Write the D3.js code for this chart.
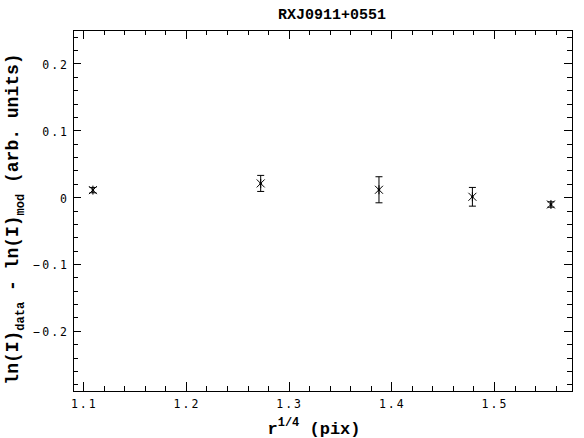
<!DOCTYPE html>
<html><head><meta charset="utf-8">
<script src="https://cdn.jsdelivr.net/npm/d3@7"></script>
<style>body{margin:0;background:#fff}svg{display:block}</style>
</head><body>
<svg id="c" width="584" height="438"></svg>
<script>
const xValues = [1.1094, 1.2728, 1.388, 1.479, 1.5555];
const yValues = [0.0105, 0.0205, 0.011, 0.0005, -0.011];
const yErrors = [0.004, 0.012, 0.0195, 0.014, 0.004];
const xMajorTicks = [1.1, 1.2, 1.3, 1.4, 1.5];
const xTickLabels = ["1.1", "1.2", "1.3", "1.4", "1.5"];
const yMajorTicks = [-0.2, -0.1, 0, 0.1, 0.2];
const yTickLabels = ["\u22120.2", "\u22120.1", "0", "0.1", "0.2"];
const xDomain = [1.09, 1.576];
const yDomain = [-0.29, 0.25];
const title = "RXJ0911+0551";

const svg = d3.select("#c");
const L = 73, R = 572, T = 30, B = 391;
const x = d3.scaleLinear().domain(xDomain).range([L, R]);
const y = d3.scaleLinear().domain(yDomain).range([B, T]);

const xMinor = d3.range(1.10, 1.5761, 0.02).map(v => +v.toFixed(2)).filter(v => !xMajorTicks.some(m => Math.abs(m - v) < 1e-9));
const yMinor = d3.range(-0.28, 0.2501, 0.02).map(v => +v.toFixed(2)).filter(v => !yMajorTicks.some(m => Math.abs(m - v) < 1e-9));

const g = svg.append("g").attr("shape-rendering", "crispEdges");
function addAxis(axisFn, scale, ticks, size, transform) {
  const a = g.append("g").attr("transform", transform)
    .call(axisFn(scale).tickValues(ticks).tickSize(-size).tickFormat(""));
  a.select(".domain").remove();
  a.selectAll("line").attr("stroke", "#000");
}
addAxis(d3.axisBottom, x, xMajorTicks, 9, `translate(0,${B})`);
addAxis(d3.axisBottom, x, xMinor, 5, `translate(0,${B})`);
addAxis(d3.axisTop, x, xMajorTicks, 9, `translate(0,${T})`);
addAxis(d3.axisTop, x, xMinor, 5, `translate(0,${T})`);
addAxis(d3.axisLeft, y, yMajorTicks, 8, `translate(${L},0)`);
addAxis(d3.axisLeft, y, yMinor, 5, `translate(${L},0)`);
addAxis(d3.axisRight, y, yMajorTicks, 8, `translate(${R},0)`);
addAxis(d3.axisRight, y, yMinor, 5, `translate(${R},0)`);

g.append("rect").attr("x", L).attr("y", T).attr("width", R - L).attr("height", B - T)
  .attr("fill", "none").attr("stroke", "#000").attr("stroke-width", 1);

const tickFont = "'DejaVu Sans Mono', monospace";
svg.append("g").selectAll("text").data(xMajorTicks).join("text")
  .attr("x", d => x(d) + 1).attr("y", 408)
  .attr("text-anchor", "middle")
  .attr("font-family", tickFont).attr("font-size", 11.5).attr("letter-spacing", 2)
  .attr("fill", "#000")
  .text((d, i) => xTickLabels[i]);

svg.append("g").selectAll("text").data(yMajorTicks).join("text")
  .attr("x", 69).attr("y", d => y(d) + 5.5)
  .attr("text-anchor", "end")
  .attr("font-family", tickFont).attr("font-size", 11.5).attr("letter-spacing", 2)
  .attr("fill", "#000")
  .text((d, i) => yTickLabels[i]);

const boldFont = "'Liberation Mono', monospace";
svg.append("text").attr("x", 332).attr("y", 19).attr("text-anchor", "middle")
  .attr("font-family", boldFont).attr("font-weight", "bold").attr("font-size", 15)
  .attr("fill", "#000").text(title);

const xl = svg.append("text").attr("x", 314).attr("y", 434).attr("text-anchor", "middle")
  .attr("font-family", boldFont).attr("font-weight", "bold").attr("font-size", 17).attr("fill", "#000");
xl.append("tspan").text("r");
xl.append("tspan").attr("font-size", 12).attr("dy", -8).text("1/4");
xl.append("tspan").attr("dy", 8).text(" (pix)");

const yl = svg.append("text").attr("transform", "translate(18,219) rotate(-90)").attr("text-anchor", "middle")
  .attr("font-family", boldFont).attr("font-weight", "bold").attr("font-size", 18).attr("fill", "#000");
yl.append("tspan").text("ln(I)");
yl.append("tspan").attr("font-size", 12).attr("dy", 6).text("data");
yl.append("tspan").attr("dy", -6).text(" - ln(I)");
yl.append("tspan").attr("font-size", 12).attr("dy", 6).text("mod");
yl.append("tspan").attr("dy", -6).text(" (arb. units)");

const pts = xValues.map((v, i) => ({x: v, y: yValues[i], e: yErrors[i]}));
const pg = svg.append("g").attr("stroke", "#000").attr("stroke-width", 1).attr("fill", "none");
const cap = 3.5, s = 4;
pts.forEach(p => {
  const px = x(p.x), py = y(p.y), y1 = y(p.y + p.e), y2 = y(p.y - p.e);
  pg.append("line").attr("x1", px).attr("x2", px).attr("y1", y1).attr("y2", y2);
  pg.append("line").attr("x1", px - cap).attr("x2", px + cap).attr("y1", y1).attr("y2", y1);
  pg.append("line").attr("x1", px - cap).attr("x2", px + cap).attr("y1", y2).attr("y2", y2);
  pg.append("line").attr("x1", px).attr("x2", px).attr("y1", py - s - 0.5).attr("y2", py + s + 0.5);
  pg.append("line").attr("x1", px - s).attr("x2", px + s).attr("y1", py - s).attr("y2", py + s);
  pg.append("line").attr("x1", px - s).attr("x2", px + s).attr("y1", py + s).attr("y2", py - s);
  pg.append("circle").attr("cx", px).attr("cy", py).attr("r", 1.3).attr("fill", "#000").attr("stroke", "none");
});
</script>
</body></html>
